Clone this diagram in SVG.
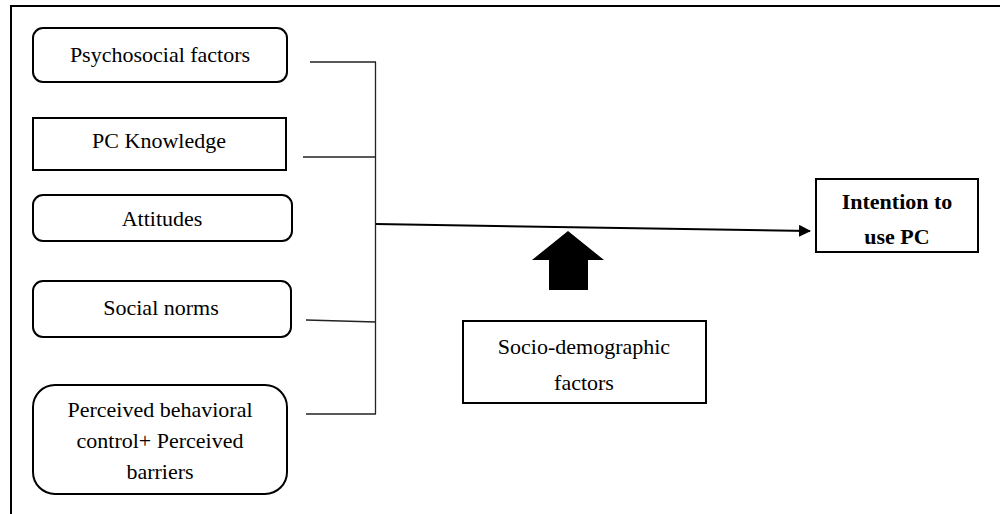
<svg xmlns="http://www.w3.org/2000/svg" width="1000" height="514" viewBox="0 0 1000 514">
<style>
.box{fill:#fff;stroke:#000;stroke-width:2}
.t{font-family:"Liberation Serif","Times New Roman",serif;font-size:22px;fill:#000;text-anchor:middle}
.b{font-weight:bold}
.c{stroke:#222;stroke-width:1.3;fill:none}
</style>
<defs>
<marker id="ah" markerWidth="12" markerHeight="12" refX="11" refY="6" orient="auto" markerUnits="userSpaceOnUse">
<path d="M0,0 L12,6 L0,12 Z" fill="#000"/>
</marker>
</defs>
<rect width="1000" height="514" fill="#fff"/>
<g id="frame">
<line x1="11" y1="6" x2="1000" y2="6" stroke="#000" stroke-width="2"/>
<line x1="11" y1="5" x2="11" y2="514" stroke="#000" stroke-width="2"/>
</g>
<g id="psychosocial">
<rect class="box" x="33" y="28" width="254" height="54" rx="10"/>
<text class="t" x="160" y="62">Psychosocial factors</text>
</g>
<g id="pc-knowledge">
<rect class="box" x="33" y="118" width="253" height="52"/>
<text class="t" x="159" y="148">PC Knowledge</text>
</g>
<g id="attitudes">
<rect class="box" x="33" y="195" width="259" height="46" rx="10"/>
<text class="t" x="162" y="226">Attitudes</text>
</g>
<g id="social-norms">
<rect class="box" x="33" y="281" width="258" height="56" rx="10"/>
<text class="t" x="161" y="315">Social norms</text>
</g>
<g id="perceived">
<rect class="box" x="33" y="385" width="254" height="109" rx="22"/>
<text class="t" x="160" y="417">Perceived behavioral</text>
<text class="t" x="160" y="448">control+ Perceived</text>
<text class="t" x="160" y="479">barriers</text>
</g>
<g id="intention">
<rect class="box" x="816" y="179" width="162" height="73"/>
<text class="t b" x="897" y="209">Intention to</text>
<text class="t b" x="897" y="244">use PC</text>
</g>
<g id="socio-demographic">
<rect class="box" x="463" y="321" width="243" height="82"/>
<text class="t" x="584" y="354">Socio-demographic</text>
<text class="t" x="584" y="390">factors</text>
</g>
<g id="connectors">
<line class="c" x1="310" y1="62" x2="376" y2="62"/>
<line class="c" x1="303" y1="157" x2="375" y2="157"/>
<line class="c" x1="306" y1="320" x2="376" y2="322"/>
<line class="c" x1="306" y1="414" x2="376" y2="414"/>
<line class="c" x1="375.5" y1="62" x2="375.5" y2="414"/>
<line x1="376" y1="224" x2="810" y2="231" stroke="#000" stroke-width="2" marker-end="url(#ah)"/>
<polygon id="block-arrow" points="568,231 604,260 588,260 588,290 549,290 549,260 532,260" fill="#000"/>
</g>
</svg>
